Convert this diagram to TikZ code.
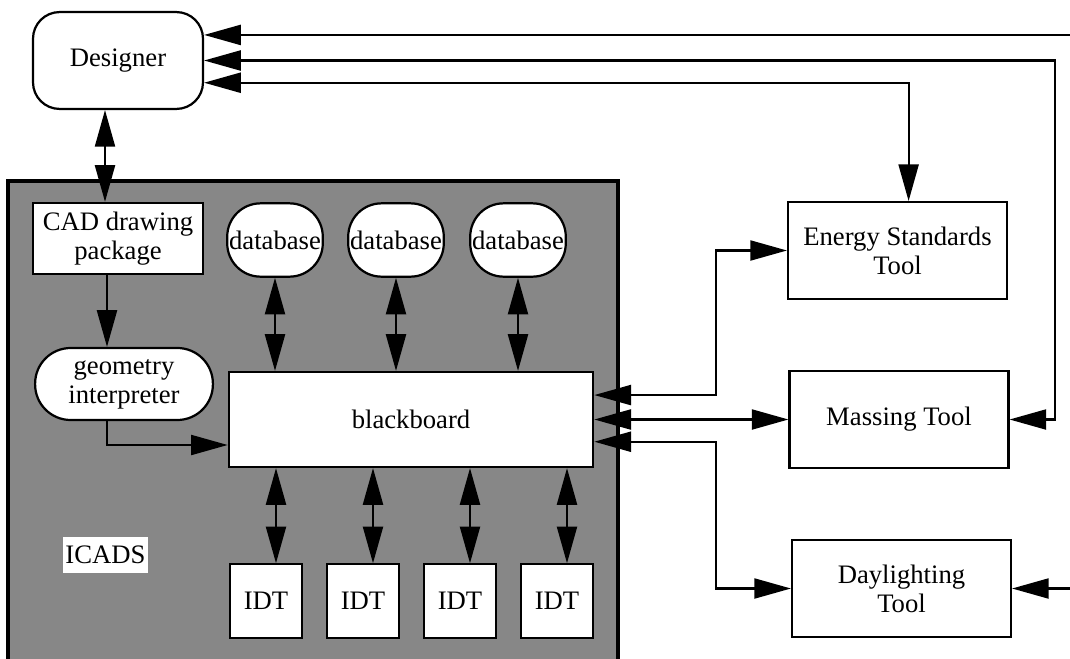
\documentclass[tikz,border=0pt]{standalone}
\usepackage{fontspec}
\setmainfont{Liberation Serif}
\usetikzlibrary{arrows.meta}

\begin{document}
\begin{tikzpicture}[
        x=0.45pt, y=-0.45pt,
        box/.style={draw, fill=white, line width=1pt, align=center, inner sep=0pt},
        rounded_box/.style={box, rounded corners=12pt},
        store/.style={box, rounded corners=15pt, minimum width=43pt, minimum height=33pt},
        idt_box/.style={box, minimum width=32.4pt, minimum height=33pt},
        tool/.style={box, minimum width=98.5pt, minimum height=43.5pt},
        >={Triangle[length=16.5pt, width=9pt]},
        line width=1pt,
        font=\fontsize{12}{13}\selectfont
    ]
        \useasboundingbox (0,0) rectangle (1070,659);
        \clip (0,0) rectangle (1070,659);

        % shaded ICADS frame
        \fill[black!47] (8,181) rectangle (618,680);
        \draw[line width=1.5pt] (8,680) -- (8,181) -- (618,181) -- (618,680);

        \node[rounded_box, minimum width=76.5pt, minimum height=43.6pt] (designer) at (118,60.5) {Designer};
        \node[box, minimum width=76.5pt, minimum height=32pt] (cad) at (118,238.5) {CAD drawing\\package};
        \node[rounded_box, rounded corners=16pt, minimum width=80pt, minimum height=32.4pt] (geom) at (124,384) {geometry\\interpreter};
        \node[box, minimum width=164pt, minimum height=42.75pt] (board) at (411,419.5) {blackboard};
        \foreach \i/\x in {1/275,2/396,3/518}
            \node[store] (db\i) at (\x,240) {database};
        \foreach \i/\x in {1/266,2/363,3/460,4/557}
            \node[idt_box] (idt\i) at (\x,601) {IDT};
        \node[fill=white, inner sep=0pt, minimum width=38pt, minimum height=16pt] (icads) at (105.5,555) {ICADS};

        \node[tool] (energy) at (897.5,250.5) {Energy Standards\\Tool};
        \node[tool] (massing) at (899,419.5) {Massing Tool};
        \node[tool] (daylight) at (901.5,588.5) {Daylighting\\Tool};

        % bend points
        \coordinate (cadx) at (105,0);
        \coordinate (geox) at (107,445);
        \coordinate (busx) at (716,0);
        \coordinate (outerx) at (1055,0);
        \coordinate (farx) at (1090,0);
        \foreach \i in {1,...,4}
            \coordinate (t\i) at ([xshift=4.5pt]idt\i.north);

        % inside ICADS
        \draw[<->] (designer.south -| cadx) -- (cad.north -| cadx);
        \draw[->] (cad.south -| geox) -- (geom.north -| geox);
        \draw[->] (geom.south -| geox) |- (board.west |- geox);
        \foreach \i in {1,2,3}
            \draw[<->] (db\i.south) -- (db\i.south |- board.north);
        \foreach \i in {1,...,4}
            \draw[<->] (t\i |- board.south) -- (t\i);

        % blackboard to the tools
        \draw[<->] ([yshift=11pt]board.east) -| (busx |- energy.west) -- (energy.west);
        \draw[<->] (board.east) -- (massing.west);
        \draw[<->] ([yshift=-10pt]board.east) -| (busx |- daylight.west) -- (daylight.west);

        % designer to the tools
        \draw[<->] ([yshift=-10pt]designer.east) -| ([xshift=5pt]energy.north);
        \draw[<->] (designer.east) -| (outerx |- massing.east) -- (massing.east);
        \draw[<->] ([yshift=11.5pt]designer.east) -| (farx |- daylight.east) -- (daylight.east);
\end{tikzpicture}
\end{document}
